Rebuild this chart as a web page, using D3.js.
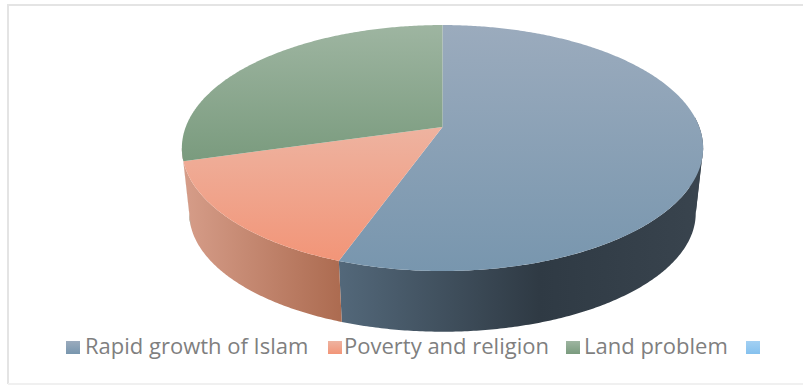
<!DOCTYPE html>
<html>
<head>
<meta charset="utf-8">
<script src="https://cdn.jsdelivr.net/npm/d3@7/dist/d3.min.js"></script>
<style>
html,body{margin:0;padding:0;background:#fff}
svg{display:block}
text{font-family:"Open Sans","Noto Sans",sans-serif}
</style>
</head>
<body>
<svg id="chart" width="803" height="385"></svg>
<script>
const categories = ["Rapid growth of Islam", "Poverty and religion", "Land problem", ""];
const shares = [55.5, 15.1, 29.4, 0];
const topStops = [["#9babbd", "#7896ae"], ["#eeb3a0", "#f29578"], ["#9eb5a1", "#7a9b7e"], ["#a3d0f3", "#85c1ee"]];
const sideStops = [
  [[0, "#53687a"], [0.55, "#2f3a44"], [1, "#39444e"]],
  [[0, "#d69d89"], [1, "#ac6b50"]],
  [[0, "#6f8a72"], [1, "#5a7560"]],
  [[0, "#85c1ee"], [1, "#85c1ee"]]
];
const legendSwatchX = [66, 328, 566, 746];
const legendTextX = [85, 344, 584, 0];

const svg = d3.select("#chart");
const defs = svg.append("defs");

// Panel outline: top and left rules, plus a fainter bottom rule
svg.append("path").attr("d", "M803,5H8V384").attr("fill", "none")
  .attr("stroke", "#e4e4e4").attr("stroke-width", 2);
svg.append("path").attr("d", "M8,384H803").attr("fill", "none")
  .attr("stroke", "#f0f0f0").attr("stroke-width", 2);

// Perspective projection of a disc on to the page
const tilt = -0.171;
const topDisc = {cx: 442.5, cy: 127, rx: 256.8, ry: 119.4};
const baseDisc = {cx: 442.5, cy: 193, rx: 249.5, ry: 115};
function project(disc, angle) {
  const u = Math.sin(angle), v = -Math.cos(angle), w = 1 + tilt * v;
  return [disc.cx + disc.rx * u / w, disc.cy + disc.ry * v / w];
}
function arcPoints(disc, a0, a1) {
  const n = Math.max(2, Math.ceil(Math.abs(a1 - a0) / 0.01));
  return d3.range(n + 1).map(i => project(disc, a0 + (a1 - a0) * i / n));
}

const pie = d3.pie().sort(null).value(d => d)(shares);
const line = d3.line();

function gradient(id, horizontal, x0, x1, stops) {
  const g = defs.append("linearGradient").attr("id", id).attr("gradientUnits", "userSpaceOnUse");
  if (horizontal) g.attr("x1", x0).attr("x2", x1).attr("y1", 0).attr("y2", 0);
  else g.attr("x1", 0).attr("x2", 0).attr("y1", x0).attr("y2", x1);
  g.selectAll("stop").data(stops).join("stop")
    .attr("offset", d => d[0]).attr("stop-color", d => d[1]);
}

// Side wall: only the part of each slice on the near half of the rim
const nearStart = Math.PI / 2 + 0.17, nearEnd = 3 * Math.PI / 2 - 0.17;
pie.forEach((s, i) => {
  const a0 = Math.max(s.startAngle, nearStart), a1 = Math.min(s.endAngle, nearEnd);
  if (a1 <= a0) return;
  const top = arcPoints(topDisc, a0, a1), base = arcPoints(baseDisc, a0, a1).reverse();
  const xs = top.concat(base).map(p => p[0]);
  gradient("side" + i, true, d3.min(xs), d3.max(xs), sideStops[i]);
  svg.append("path").attr("d", line(top.concat(base)) + "Z").attr("fill", `url(#side${i})`);
});

// Right and left silhouette strips joining the top disc to the base disc
function strip(a0, a1, fill) {
  const pts = arcPoints(topDisc, a0, a1).concat(arcPoints(baseDisc, a0, a1).reverse());
  svg.append("path").attr("d", line(pts) + "Z").attr("fill", fill);
}
strip(Math.PI / 2 - 0.08, nearStart + 0.01, "#39444e");
strip(nearEnd - 0.01, pie[1].endAngle, "#d69d89");

// Top faces of the slices
pie.forEach((s, i) => {
  if (s.endAngle <= s.startAngle) return;
  const rim = arcPoints(topDisc, s.startAngle, s.endAngle);
  const pts = [[topDisc.cx, topDisc.cy]].concat(rim);
  const ys = pts.map(p => p[1]);
  gradient("top" + i, false, d3.min(ys), d3.max(ys), [[0, topStops[i][0]], [1, topStops[i][1]]]);
  svg.append("path").attr("d", line(pts) + "Z").attr("fill", `url(#top${i})`);
});

// Legend
categories.forEach((name, i) => {
  gradient("key" + i, false, 341, 354, [[0, topStops[i][0]], [1, topStops[i][1]]]);
  svg.append("rect").attr("x", legendSwatchX[i]).attr("y", 341).attr("width", 14).attr("height", 13)
    .attr("fill", `url(#key${i})`);
  if (name) svg.append("text").attr("x", legendTextX[i]).attr("y", 354)
    .attr("font-size", 22).attr("fill", "#7f7f7f").text(name);
});
</script>
</body>
</html>
